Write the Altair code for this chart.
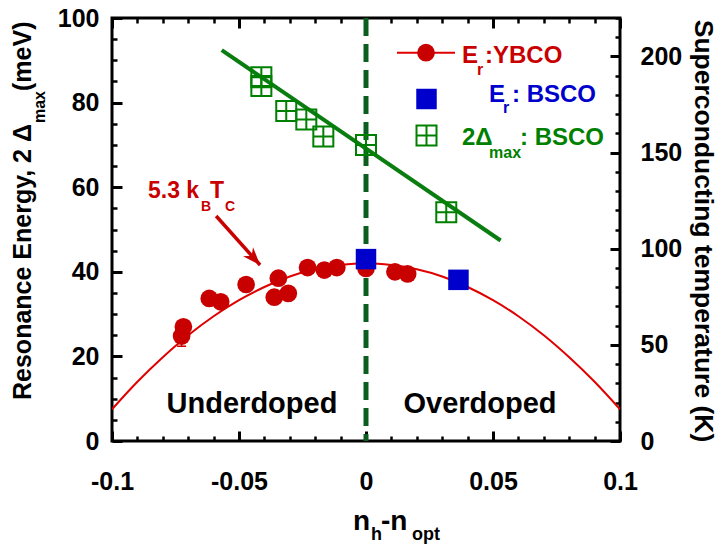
import altair as alt
import pandas as pd

# ---------------- data ----------------
ybco_x = [-0.0719, -0.0726, -0.0617, -0.0572, -0.0472, -0.0345, -0.0361, -0.0306,
          -0.0230, -0.0164, -0.0115, 0.0, 0.0114, 0.0164]
ybco_y = [27.0, 24.8, 33.7, 32.9, 37.0, 38.5, 34.0, 34.9,
          41.0, 40.4, 41.0, 40.8, 40.0, 39.5]
bsco_x = [0.0, 0.0364]
bsco_y = [43.0, 38.1]
gap_x = [-0.0412, -0.0412, -0.0314, -0.0235, -0.0168, 0.0, 0.0316]
gap_y = [86.0, 83.9, 78.0, 76.0, 72.0, 70.0, 54.1]
fit_x = [-0.0568, 0.053]
fit_y = [92.4, 47.4]
curve_x = [-0.1, -0.09, -0.08, -0.07, -0.06, -0.05, -0.04, -0.03, -0.02, -0.01, 0.0,
           0.01, 0.02, 0.03, 0.04, 0.05, 0.06, 0.07, 0.08, 0.09, 0.1]
curve_y = [7.5, 14.0, 19.8, 25.0, 29.5, 33.3, 36.4, 38.9, 40.6, 41.6, 42.0,
           41.6, 40.6, 38.9, 36.4, 33.3, 29.5, 25.0, 19.8, 14.0, 7.5]
err_x = [-0.0726]
err_lo = [22.4]
err_hi = [27.2]
arrow_x = [-0.0590]
arrow_y = [53.2]
arrow_x2 = [-0.0417]
arrow_y2 = [41.6]

x_major = [-0.1, -0.05, 0.0, 0.05, 0.1]
x_minor = [-0.09, -0.08, -0.07, -0.06, -0.04, -0.03, -0.02, -0.01,
           0.01, 0.02, 0.03, 0.04, 0.06, 0.07, 0.08, 0.09]
y_major = [0, 20, 40, 60, 80, 100]
y_minor = [5, 10, 15, 25, 30, 35, 45, 50, 55, 65, 70, 75, 85, 90, 95]
t_major = [0, 50, 100, 150, 200]
t_minor = [10, 20, 30, 40, 60, 70, 80, 90, 110, 120, 130, 140, 160, 170, 180, 190, 210, 220]

# ---------------- styling ----------------
RED = "#c80000"
RED_LINE = "#e00000"
BLUE = "#0000cc"
GREEN = "#008000"
GREEN_LINE = "#0a7d10"
DASH = "#0b5e1f"
TICK_FONT = "'Liberation Sans Narrow', 'Liberation Sans', Arial, sans-serif"
FONT = "'Liberation Sans', Arial, sans-serif"
TICK_FS = 25

XS = alt.Scale(domain=[-0.1, 0.1], nice=False, zero=False)
YS = alt.Scale(domain=[0, 100], nice=False, zero=False)
TS = alt.Scale(domain=[0, 220], nice=False, zero=False)

XFMT = "datum.value < 0 ? '-' + format(-datum.value, '') : format(datum.value, '')"


def axis(orient, values, size, labels, pad=0, width=3, expr=None):
    kw = dict(orient=orient, values=values, tickSize=size, offset=-size, domain=False,
              grid=False, labels=labels, title=None, ticks=True, tickColor="black",
              tickWidth=width, labelFont=TICK_FONT, labelFontSize=TICK_FS,
              labelFontWeight="bold", labelColor="black", labelPadding=pad,
              labelFlush=False, labelOverlap=False)
    if expr:
        kw["labelExpr"] = expr
    return alt.Axis(**kw)


pts = pd.DataFrame({"x": ybco_x, "y": ybco_y})

# axis carriers (invisible)
ax_main = alt.Chart(pts).mark_point(opacity=0).encode(
    x=alt.X("x:Q", scale=XS, axis=axis("bottom", x_major, 10, True, pad=28, expr=XFMT)),
    y=alt.Y("y:Q", scale=YS, axis=axis("left", y_major, 10, True, pad=13)),
)
ax_minor = alt.Chart(pts).mark_point(opacity=0).encode(
    x=alt.X("x:Q", scale=XS, axis=axis("bottom", x_minor, 5, False, width=2.5)),
    y=alt.Y("y:Q", scale=YS, axis=axis("left", y_minor, 5, False, width=2.5)),
)
ax_right = alt.Chart(pts).mark_point(opacity=0).encode(
    x=alt.X("x:Q", scale=XS, axis=axis("top", x_major, 10, False)),
    y=alt.Y("y:Q", scale=TS, axis=axis("right", t_major, 10, True, pad=20)),
)
ax_right_minor = alt.Chart(pts).mark_point(opacity=0).encode(
    x=alt.X("x:Q", scale=XS, axis=axis("top", x_minor, 5, False, width=2.5)),
    y=alt.Y("y:Q", scale=TS, axis=axis("right", t_minor, 5, False, width=2.5)),
)

NOAX = dict(axis=None)

dash = alt.Chart(pd.DataFrame({"x": [0.0]})).mark_rule(
    color=DASH, strokeWidth=5, strokeDash=[18, 8]
).encode(x=alt.X("x:Q", scale=XS, **NOAX))

curve = alt.Chart(pd.DataFrame({"x": curve_x, "y": curve_y})).mark_line(
    color=RED_LINE, strokeWidth=2, interpolate="monotone", clip=True
).encode(x=alt.X("x:Q", scale=XS, **NOAX), y=alt.Y("y:Q", scale=YS, **NOAX))

fit = alt.Chart(pd.DataFrame({"x": fit_x, "y": fit_y})).mark_line(
    color=GREEN_LINE, strokeWidth=4
).encode(x=alt.X("x:Q", scale=XS, **NOAX), y=alt.Y("y:Q", scale=YS, **NOAX))

GRIDSQ = "M-1,-1H1V1H-1Z M0,-1V1 M-1,0H1"
gap = alt.Chart(pd.DataFrame({"x": gap_x, "y": gap_y})).mark_point(
    shape=GRIDSQ, size=400, filled=False, color=GREEN, strokeWidth=2, opacity=1
).encode(x=alt.X("x:Q", scale=XS, **NOAX), y=alt.Y("y:Q", scale=YS, **NOAX))

err = alt.Chart(pd.DataFrame({"x": err_x, "lo": err_lo, "hi": err_hi})).mark_rule(
    color=RED, strokeWidth=1.5
).encode(x=alt.X("x:Q", scale=XS, **NOAX), y=alt.Y("lo:Q", scale=YS, **NOAX), y2="hi:Q")
errcap = alt.Chart(pd.DataFrame({"x": err_x, "lo": err_lo})).mark_tick(
    orient="horizontal", size=9, thickness=1.5, color=RED, opacity=1
).encode(x=alt.X("x:Q", scale=XS, **NOAX), y=alt.Y("lo:Q", scale=YS, **NOAX))

ybco = alt.Chart(pts).mark_point(
    shape="circle", size=314, filled=True, color=RED, opacity=1
).encode(x=alt.X("x:Q", scale=XS, **NOAX), y=alt.Y("y:Q", scale=YS, **NOAX))

bsco = alt.Chart(pd.DataFrame({"x": bsco_x, "y": bsco_y})).mark_point(
    shape="square", size=420, filled=True, color=BLUE, opacity=1
).encode(x=alt.X("x:Q", scale=XS, **NOAX), y=alt.Y("y:Q", scale=YS, **NOAX))

arrow = alt.Chart(pd.DataFrame({"x": arrow_x, "y": arrow_y, "x2": arrow_x2, "y2": arrow_y2})).mark_rule(
    color=RED, strokeWidth=3.5
).encode(x=alt.X("x:Q", scale=XS, **NOAX), y=alt.Y("y:Q", scale=YS, **NOAX),
         x2="x2:Q", y2="y2:Q")
HEAD = "M0,0 L-0.75,2 L0,1.4 L0.75,2 Z"
arrowhead = alt.Chart(pd.DataFrame({"x": arrow_x2, "y": arrow_y2})).mark_point(
    shape=HEAD, size=324, filled=True, color=RED, opacity=1, angle=138
).encode(x=alt.X("x:Q", scale=XS, **NOAX), y=alt.Y("y:Q", scale=YS, **NOAX))

ONE = alt.Data(values=[{}])


def txt(s, x, y, size, color="black", align="left", baseline="alphabetic", angle=0,
        font=FONT):
    kw = dict(text=s, fontSize=size, fontWeight="bold", color=color, align=align,
              baseline=baseline, font=font)
    if angle:
        kw["angle"] = angle
    return alt.Chart(ONE).mark_text(**kw).encode(x=alt.value(x), y=alt.value(y))


texts = [
    # region labels
    txt("Underdoped", 140, 395, 29, align="center"),
    txt("Overdoped", 368, 395, 29, align="center"),
    # annotation 5.3 kB Tc
    txt("5.3 k", 36, 180, 23, color=RED),
    txt("B", 89, 193, 14, color=RED),
    txt("T", 98, 180, 23, color=RED),
    txt("C", 113, 193, 14, color=RED),
    # legend
    txt("E", 350, 45, 24, color=RED),
    txt("r", 365, 57, 16, color=RED),
    txt(":YBCO", 373, 45, 24, color=RED),
    txt("E", 377, 84, 24, color=BLUE),
    txt("r", 391, 95, 16, color=BLUE),
    txt(": BSCO", 400, 84, 24, color=BLUE),
    txt("2\u0394", 350, 127, 24, color=GREEN),
    txt("max", 377, 140, 16, color=GREEN),
    txt(": BSCO", 408, 127, 24, color=GREEN),
    # x title
    txt("n", 241, 512, 28, font=TICK_FONT),
    txt("h", 259, 522, 18, font=TICK_FONT),
    txt("-n", 269, 512, 28, font=TICK_FONT),
    txt("opt", 300, 522, 18, font=TICK_FONT),
    # left y title (rotated)
    txt("Resonance Energy, 2 \u0394", -81, 382, 25, angle=270),
    txt("max", -67, 105, 16, angle=270),
    txt("(meV)", -81, 73, 25, angle=270),
    # right y title
    txt("Superconducting temperature (K)", 583, 213, 26.5, align="center", angle=90),
]

legend_line = alt.Chart(ONE).mark_rule(color=RED_LINE, strokeWidth=2).encode(
    x=alt.value(285), x2=alt.value(343), y=alt.value(34.7))
legend_circ = alt.Chart(ONE).mark_point(shape="circle", size=314, filled=True,
                                        color=RED, opacity=1).encode(
    x=alt.value(314), y=alt.value(34.7))
legend_sq = alt.Chart(ONE).mark_point(shape="square", size=420, filled=True,
                                      color=BLUE, opacity=1).encode(
    x=alt.value(314.5), y=alt.value(81))
legend_gsq = alt.Chart(ONE).mark_point(shape=GRIDSQ, size=400, filled=False,
                                       color=GREEN, strokeWidth=2, opacity=1).encode(
    x=alt.value(314.5), y=alt.value(117.5))

chart = alt.layer(
    ax_main, ax_minor, ax_right, ax_right_minor,
    dash, curve, fit, gap, err, errcap, ybco, bsco, arrow, arrowhead,
    legend_line, legend_circ, legend_sq, legend_gsq,
    *texts,
).resolve_scale(x="independent", y="independent").resolve_axis(
    x="independent", y="independent"
).properties(
    width=508, height=423,
    autosize=alt.AutoSizeParams(type="none"),
    padding={"left": 104, "top": 10, "right": 100, "bottom": 104},
).configure_view(stroke="black", strokeWidth=3)

chart.save("out.html", embed_options={"renderer": "svg", "actions": False})
